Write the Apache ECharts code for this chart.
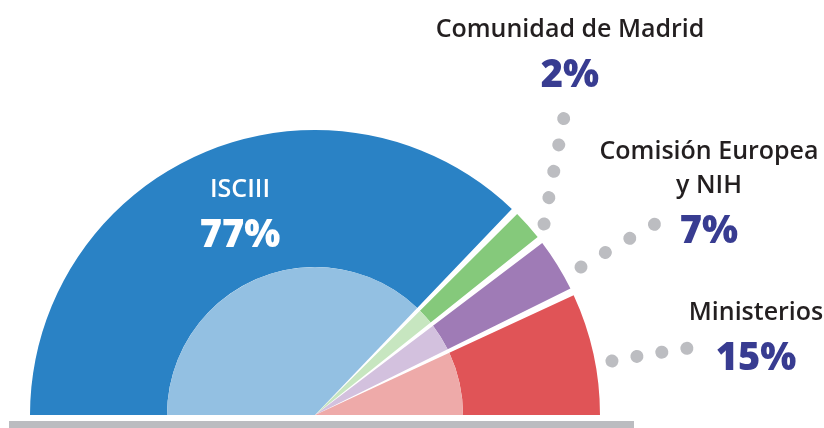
<!DOCTYPE html>
<html><head><meta charset="utf-8">
<script src="https://cdn.jsdelivr.net/npm/echarts@6/dist/echarts.min.js"></script>
<style>html,body{margin:0;padding:0;background:#fff}#c{width:824px;height:428px}</style>
</head><body><div id="c"></div>
<script>
const categories = ['ISCIII', 'Comunidad de Madrid', 'Comisión Europea\ny NIH', 'Ministerios'];
const shares = [77, 2, 7, 15];
const outerColors = ['#2a82c5', '#85c97b', '#9f7bb6', '#e05457'];
const innerColors = ['#93c0e2', '#c7e6c0', '#d3c1de', '#eeaaa9'];

// label anchor (centre of text block) and leader-dot path per slice
const labelPos = [[240, 219], [570, 59], [709, 198], [756, 342]];
const leaderPts = [
  null,
  [[544, 224], [554, 170], [564, 117]],
  [[581, 267], [618, 245], [655, 224]],
  [[612, 361], [650, 354], [689, 348]]
];
const leaderGap = [0, 26.8, 28.3, 25.3];

const FONT = '"Open Sans", sans-serif';
const chart = echarts.init(document.getElementById('c'), null, {renderer: 'canvas'});

const outerData = categories.map((c, i) => ({
  name: c, value: shares[i],
  itemStyle: {color: outerColors[i]},
  labelLine: i === 0 ? {show: false} : {show: true, lineStyle: {color: '#bcbdc1', width: 13, cap: 'round', type: [0.01, leaderGap[i]]}}
}));
const innerData = categories.map((c, i) => ({name: c, value: shares[i], itemStyle: {color: innerColors[i]}}));

chart.setOption({
  animation: false,
  graphic: [{type: 'rect', shape: {x: 9, y: 421, width: 625, height: 7}, style: {fill: '#bbbcc0'}}],
  series: [
    {
      type: 'pie', center: [315, 415], radius: [148, 285],
      startAngle: 180.75, endAngle: -0.75, clockwise: true,
      padAngle: 1.5, minAngle: 6.2, avoidLabelOverlap: false,
      data: outerData,
      label: {
        show: true, position: 'outside',
        formatter: p => {
          const w = p.dataIndex === 0 ? 'w' : '';
          return p.name.split('\n').map(s => '{n' + w + '|' + s + '}').join('\n') + '\n{p' + w + '|' + p.value + '%}';
        },
        rich: {
          n: {fontFamily: FONT, fontSize: 25, fontWeight: 600, color: '#231f20', lineHeight: 34, align: 'center'},
          p: {fontFamily: FONT, fontSize: 38, fontWeight: 800, color: '#383c91', lineHeight: 58, align: 'center'},
          nw: {fontFamily: FONT, fontSize: 25, fontWeight: 600, color: '#ffffff', lineHeight: 34, align: 'center'},
          pw: {fontFamily: FONT, fontSize: 38, fontWeight: 800, color: '#ffffff', lineHeight: 58, align: 'center'}
        }
      },
      labelLine: {show: true},
      labelLayout: params => {
        const i = params.dataIndex;
        const o = {x: labelPos[i][0], y: labelPos[i][1], align: 'center', verticalAlign: 'middle'};
        if (leaderPts[i]) o.labelLinePoints = leaderPts[i];
        return o;
      },
      emphasis: {disabled: true}
    },
    {
      type: 'pie', center: [315, 415], radius: [0, 148],
      startAngle: 180.75, endAngle: -0.75, clockwise: true,
      padAngle: 1.5, minAngle: 6.2, silent: true,
      data: innerData,
      label: {show: false}, labelLine: {show: false},
      emphasis: {disabled: true}
    }
  ]
});
</script></body></html>
